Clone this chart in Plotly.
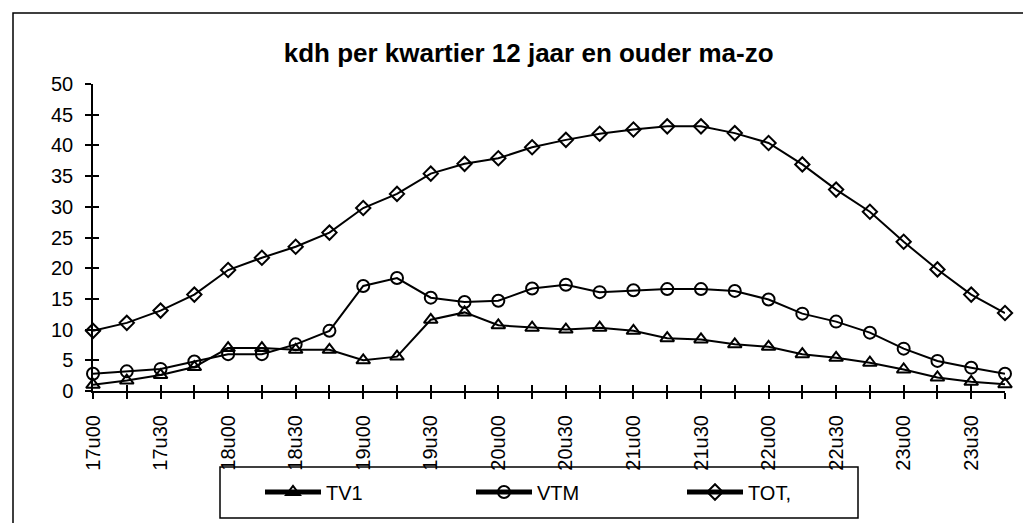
import plotly.graph_objects as go

# quarter-hour slots 17u00 .. 23u45
times = ["17u00", "17u15", "17u30", "17u45", "18u00", "18u15", "18u30", "18u45",
         "19u00", "19u15", "19u30", "19u45", "20u00", "20u15", "20u30", "20u45",
         "21u00", "21u15", "21u30", "21u45", "22u00", "22u15", "22u30", "22u45",
         "23u00", "23u15", "23u30", "23u45"]

tv1 = [1.0, 1.7, 2.6, 3.9, 7.0, 7.0, 6.7, 6.7, 5.0, 5.6, 11.6, 12.8, 10.7, 10.3,
       10.0, 10.3, 9.8, 8.6, 8.4, 7.6, 7.2, 6.0, 5.4, 4.6, 3.5, 2.2, 1.5, 1.1]
vtm = [2.8, 3.2, 3.6, 4.8, 6.0, 6.0, 7.6, 9.8, 17.1, 18.4, 15.2, 14.5, 14.7, 16.7,
       17.3, 16.1, 16.4, 16.6, 16.6, 16.3, 14.9, 12.6, 11.3, 9.5, 6.9, 4.9, 3.8, 2.8]
tot = [9.8, 11.1, 13.1, 15.7, 19.7, 21.7, 23.5, 25.8, 29.8, 32.1, 35.4, 37.0, 37.9,
       39.7, 40.9, 41.9, 42.6, 43.1, 43.1, 42.0, 40.4, 36.9, 32.8, 29.2, 24.3, 19.8,
       15.7, 12.7]

FONT = "Arial, Liberation Sans, sans-serif"
W, H = 1031, 523
L, R, T, B = 85, 34, 76, 140
PW, PH = W - L - R, H - T - B

x = list(range(len(times)))
ticktext = [t if i % 2 == 0 else "" for i, t in enumerate(times)]


def px(v):  # pixel -> paper x
    return (v - L) / PW


def py(v):  # pixel -> paper y
    return (H - B - v) / PH


fig = go.Figure()
for name, vals, sym in [("TV1", tv1, "triangle-up-open"),
                        ("VTM", vtm, "circle-open"),
                        ("TOT,", tot, "diamond-open")]:
    fig.add_trace(go.Scatter(
        x=x, y=vals, name=name, mode="lines+markers",
        line=dict(color="black", width=2),
        marker=dict(symbol=sym, size=12 if sym != "diamond-open" else 11,
                    color="black", line=dict(color="black", width=2)),
        cliponaxis=False,
    ))

# dummy trace so the overlay axes (inside half of the crossing ticks) get drawn
fig.add_trace(go.Scatter(x=[0], y=[0], xaxis="x2", yaxis="y2", mode="markers",
                         marker=dict(opacity=0), showlegend=False, hoverinfo="skip"))

AX = dict(showgrid=False, zeroline=False, color="black",
          tickfont=dict(family=FONT, size=20, color="black"))

fig.update_layout(
    width=W, height=H,
    margin=dict(l=L, r=R, t=T, b=B),
    paper_bgcolor="white", plot_bgcolor="white",
    font=dict(family=FONT, color="black"),
    title=dict(text="<b>kdh per kwartier 12 jaar en ouder ma-zo</b>",
               x=0.505, xanchor="center", y=1 - 45 / H, yanchor="middle",
               font=dict(family=FONT, size=26, color="black")),
    xaxis=dict(**AX, range=[0, len(times) - 1], tickvals=x, ticktext=ticktext,
               tickangle=-90, ticks="outside", ticklen=6, tickwidth=1.5,
               showline=True, linewidth=2, linecolor="black",
               ticklabelstandoff=8),
    yaxis=dict(**AX, range=[0, 50], dtick=5, ticks="outside", ticklen=6,
               tickwidth=1.5, showline=True, linewidth=1.5, linecolor="black",
               ticklabelstandoff=8),
    xaxis2=dict(overlaying="x", matches="x", anchor="y", tickvals=x,
                ticks="inside", ticklen=6, tickwidth=1.5, tickcolor="black",
                showticklabels=False, showgrid=False, zeroline=False, showline=False),
    yaxis2=dict(overlaying="y", matches="y", anchor="x", dtick=5,
                ticks="inside", ticklen=6, tickwidth=1.5, tickcolor="black",
                showticklabels=False, showgrid=False, zeroline=False, showline=False),
    showlegend=True,
    legend=dict(orientation="h", x=px(252), xanchor="left",
                y=py(484), yanchor="middle", bgcolor="rgba(0,0,0,0)",
                font=dict(family=FONT, size=20, color="black"),
                entrywidth=140, itemwidth=56, itemsizing="constant"),
    shapes=[
        # legend box
        dict(type="rect", xref="paper", yref="paper",
             x0=px(212), x1=px(850), y0=py(510), y1=py(459),
             line=dict(color="black", width=1.5)),
        # outer frame (left, top, bottom)
        dict(type="path", xref="paper", yref="paper",
             path=f"M {px(1027)} {py(5)} L {px(5)} {py(5)} L {px(5)} {py(520)} L {px(1027)} {py(520)}",
             line=dict(color="black", width=1.5)),
    ],
)

fig.write_html("out.html")
